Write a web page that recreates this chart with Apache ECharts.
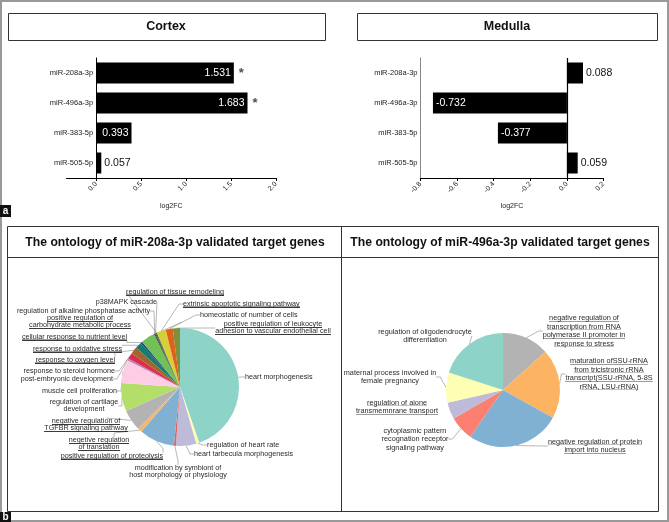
<!DOCTYPE html>
<html>
<head>
<meta charset="utf-8">
<script src="https://cdn.jsdelivr.net/npm/echarts@6/dist/echarts.min.js"></script>
<style>
html,body{margin:0;padding:0;background:#fff}
#chart{width:669px;height:522px}
</style>
</head>
<body>
<div id="chart"></div>
<script>
// panel a data
const mirs = ['miR-208a-3p', 'miR-496a-3p', 'miR-383-5p', 'miR-505-5p'];
const cortexFC = [1.531, 1.683, 0.393, 0.057];
const cortexSig = [true, true, false, false];
const medullaFC = [0.088, -0.732, -0.377, 0.059];
const cortexTicks = [0, 0.5, 1.0, 1.5, 2.0];

// panel b, left pie (shares in degrees, clockwise from 12 o'clock)
const go208Terms = [
  'heart morphogenesis', 'regulation of heart rate', 'heart tarbecula morphogenesis',
  'modification by symbiont of\nhost morphology or physiology', 'positive regulation of proteolysis',
  'negetive regulation\nof translation', 'negative regulation of\nTGFBR signaling pathway',
  'regulation of cartilage\ndevelopment', 'muscle cell proliferation', 'post-embryonic development',
  'response to steroid hormone', 'response to oxygen level', 'response to oxidative stress',
  'cellular response to nutrient level', 'positive regulation of\ncarbohydrate metabolic process',
  'regulation of alkaline phosphatase activity', 'p38MAPK cascade', 'regulation of tissue remodeling',
  'extrinsic apoptotic signaling pathway', 'homeostatic of number of cells',
  'positive regulation of leukocyte\nadhesion to vascular endothelial cell'
];
const go208Share = [161, 3, 20, 2, 35, 4, 21, 28, 23, 2, 6, 7, 6, 2, 14, 1, 1, 1, 9, 7, 7];
const go208Under = [false, false, false, false, true, true, true, false, false, false, false, true, true,
  true, true, false, false, true, true, false, true];

// panel b, right pie
const go496Terms = [
  'negative regulation of\ntranscription from RNA\npolymerase II promoter in\nresponse to stress',
  'maturation ofSSU-rRNA\nfrom tricistronic rRNA\ntranscript(SSU-rRNA, 5-8S\nrRNA, LSU-rRNA)',
  'negative regulation of protein\nimport into nucleus',
  'cytoplasmic pattern\nrecognation receptor\nsignaling pathway',
  'regulation of aione\ntransmemnrane transport',
  'maternal process involved in\nfemale pregnancy',
  'regulation of oligodendrocyte\ndifferentiation'
];
const go496Share = [48, 71, 96, 25, 17, 31, 72];
const go496Under = [true, true, true, false, true, false, false];

// styling
const go208Colors = ['#8dd3c7', '#ffffb3', '#bebada', '#e0605a', '#80b1d3', '#fdb462', '#b3b3b3',
  '#b3de69', '#fccde5', '#bc80bd', '#d9304a', '#a0662e', '#167a6e', '#1f4e79', '#72c05a',
  '#333333', '#2d5e2e', '#555555', '#d6cf3a', '#e0601c', '#7f8f3a'];
const go496Colors = ['#b3b3b3', '#fdb462', '#80b1d3', '#fb8072', '#bebada', '#ffffb3', '#8dd3c7'];

// label anchor positions [x, y, align]
const go208LabelPos = [
  [245, 377, 'left'], [207, 445, 'left'], [194, 454, 'left'], [178, 472, 'center'],
  [163, 456, 'right'], [99, 444, 'center'], [86, 425, 'center'], [84, 406, 'center'],
  [117, 391, 'right'], [113, 379, 'right'], [115, 371, 'right'], [115, 360, 'right'],
  [122, 349, 'right'], [127, 337, 'right'], [80, 322, 'center'], [150, 311, 'right'],
  [157, 302, 'right'], [175, 292, 'center'], [183, 304, 'left'], [200, 315, 'left'],
  [273, 328, 'center']
];
const go496LabelPos = [
  [584, 331, 'center'], [609, 374, 'center'], [595, 446, 'center'], [415, 439, 'center'],
  [397, 407, 'center'], [390, 377, 'center'], [425, 336, 'center']
];

function underlineImg(h) {
  const c = document.createElement('canvas');
  c.width = 4; c.height = h;
  const ctx = c.getContext('2d');
  ctx.fillStyle = '#3a3a3a';
  ctx.fillRect(0, h - 1, 4, 1);
  return c;
}

function termLabel(terms, under) {
  return function (p) {
    const tag = under[p.dataIndex] ? 'u' : 'n';
    return terms[p.dataIndex].split('\n').map(s => '{' + tag + '|' + s + '}').join('\n');
  };
}

function pieRich(fs, lh) {
  return {
    u: { fontSize: fs, lineHeight: lh, color: '#2a2a2a', backgroundColor: { image: underlineImg(lh) } },
    n: { fontSize: fs, lineHeight: lh, color: '#2a2a2a' }
  };
}

const FONT = '"Liberation Sans", Arial, sans-serif';
const chart = echarts.init(document.getElementById('chart'));

const axisLabelStyle = { fontSize: 7, color: '#222', fontFamily: FONT };

// cortex grid: the category axis sits on log2FC = 0
const cortexGrid = { left: 66.5, right: 393, top: 58, height: 120 };
const cortexMin = -0.33, cortexMax = 2;
const cortexWidth = 669 - cortexGrid.left - cortexGrid.right;
const cortexZeroOffset = -(0 - cortexMin) / (cortexMax - cortexMin) * cortexWidth;

const option = {
  animation: false,
  textStyle: { fontFamily: FONT },
  grid: [
    cortexGrid,
    { left: 420.5, right: 65.5, top: 58, height: 120 }
  ],
  xAxis: [
    {
      gridIndex: 0, type: 'value', min: cortexMin, max: cortexMax,
      name: 'log2FC', nameLocation: 'middle', nameGap: 25,
      nameTextStyle: { fontSize: 7, color: '#222' },
      axisLine: { show: true, lineStyle: { color: '#000', width: 1 } },
      axisTick: { show: true, length: 3, customValues: cortexTicks, lineStyle: { color: '#000' } },
      axisLabel: Object.assign({ rotate: 45, margin: 5, customValues: cortexTicks,
        formatter: v => v.toFixed(1) }, axisLabelStyle),
      splitLine: { show: false }
    },
    {
      gridIndex: 1, type: 'value', min: -0.8, max: 0.2, interval: 0.2,
      name: 'log2FC', nameLocation: 'middle', nameGap: 25,
      nameTextStyle: { fontSize: 7, color: '#222' },
      axisLine: { show: true, lineStyle: { color: '#000', width: 1 } },
      axisTick: { show: true, length: 3, lineStyle: { color: '#000' } },
      axisLabel: Object.assign({ rotate: 45, margin: 5, formatter: v => v.toFixed(1) }, axisLabelStyle),
      splitLine: { show: false }
    }
  ],
  yAxis: [
    {
      gridIndex: 0, type: 'category', data: mirs, inverse: true,
      offset: cortexZeroOffset,
      axisLine: { onZero: false, lineStyle: { color: '#000', width: 1 } },
      axisTick: { alignWithLabel: true, length: 3, lineStyle: { color: '#555' } },
      axisLabel: { fontSize: 7.5, color: '#222', margin: 3 }
    },
    {
      gridIndex: 1, type: 'category', data: mirs, inverse: true,
      axisLine: { onZero: false, lineStyle: { color: '#555', width: 0.7 } },
      axisTick: { alignWithLabel: true, length: 3, lineStyle: { color: '#555' } },
      axisLabel: { fontSize: 7.5, color: '#222', margin: 3 }
    }
  ],
  series: [
    {
      type: 'bar', xAxisIndex: 0, yAxisIndex: 0, barWidth: 21,
      itemStyle: { color: '#000' },
      data: cortexFC.map(v => ({
        value: v,
        label: v > 0.3
          ? { show: true, position: 'insideRight', color: '#fff', fontSize: 10.5, distance: 3 }
          : { show: true, position: 'right', color: '#111', fontSize: 10.5, distance: 3 }
      })),
      label: { formatter: p => p.value.toFixed(3) }
    },
    {
      type: 'scatter', xAxisIndex: 0, yAxisIndex: 0, symbolSize: 0, silent: true,
      data: cortexFC.map((v, i) => [v, mirs[i]]).filter((d, i) => cortexSig[i]),
      label: { show: true, formatter: '*', position: 'right', distance: 5,
        fontSize: 13, fontWeight: 'bold', color: '#222' }
    },
    {
      type: 'bar', xAxisIndex: 1, yAxisIndex: 1, barWidth: 21,
      itemStyle: { color: '#000' },
      data: medullaFC.map(v => ({
        value: v,
        label: v < 0
          ? { show: true, position: 'insideLeft', color: '#fff', fontSize: 10.5, distance: 3 }
          : { show: true, position: 'right', color: '#111', fontSize: 10.5, distance: 3 }
      })),
      label: { formatter: p => p.value.toFixed(3) },
      markLine: {
        silent: true, symbol: 'none', label: { show: false },
        lineStyle: { color: '#000', width: 1.2, type: 'solid' },
        data: [{ xAxis: 0 }]
      }
    },
    {
      type: 'pie', center: [180, 387], radius: 59, startAngle: 90, clockwise: true,
      avoidLabelOverlap: false,
      data: go208Terms.map((t, i) => ({ name: t, value: go208Share[i], itemStyle: { color: go208Colors[i] } })),
      label: { show: true, position: 'outside', formatter: termLabel(go208Terms, go208Under),
        rich: pieRich(7.2, 7), fontSize: 7.2, lineHeight: 7 },
      labelLine: { show: true, length: 4, length2: 4, lineStyle: { color: '#888', width: 0.6 } },
      labelLayout: p => {
        const pos = go208LabelPos[p.dataIndex];
        return { x: pos[0], y: pos[1], align: pos[2], verticalAlign: 'middle' };
      }
    },
    {
      type: 'pie', center: [503, 390], radius: 57, startAngle: 90, clockwise: true,
      avoidLabelOverlap: false,
      data: go496Terms.map((t, i) => ({ name: t, value: go496Share[i], itemStyle: { color: go496Colors[i] } })),
      label: { show: true, position: 'outside', formatter: termLabel(go496Terms, go496Under),
        rich: pieRich(7.3, 8.5), fontSize: 7.3, lineHeight: 8.5 },
      labelLine: { show: true, length: 4, length2: 4, lineStyle: { color: '#888', width: 0.6 } },
      labelLayout: p => {
        const pos = go496LabelPos[p.dataIndex];
        return { x: pos[0], y: pos[1], align: pos[2], verticalAlign: 'middle' };
      }
    }
  ],
  graphic: [
    { type: 'rect', silent: true, shape: { x: 1, y: 1, width: 667, height: 520 },
      style: { fill: null, stroke: '#999', lineWidth: 2 } },
    // panel a title boxes
    { type: 'rect', shape: { x: 8.5, y: 13.5, width: 317, height: 27 },
      style: { fill: '#fff', stroke: '#333', lineWidth: 1 } },
    { type: 'text', x: 166, y: 27, style: { text: 'Cortex', font: 'bold 12.5px ' + FONT,
      fill: '#111', align: 'center', verticalAlign: 'middle' } },
    { type: 'rect', shape: { x: 357.5, y: 13.5, width: 300, height: 27 },
      style: { fill: '#fff', stroke: '#333', lineWidth: 1 } },
    { type: 'text', x: 507, y: 27, style: { text: 'Medulla', font: 'bold 12.5px ' + FONT,
      fill: '#111', align: 'center', verticalAlign: 'middle' } },
    // panel b frame
    { type: 'rect', shape: { x: 7.5, y: 226.5, width: 651, height: 285 },
      style: { fill: null, stroke: '#333', lineWidth: 1 } },
    { type: 'line', shape: { x1: 341.5, y1: 226.5, x2: 341.5, y2: 511.5 },
      style: { stroke: '#333', lineWidth: 1 } },
    { type: 'line', shape: { x1: 7.5, y1: 257.5, x2: 658.5, y2: 257.5 },
      style: { stroke: '#333', lineWidth: 1 } },
    { type: 'text', x: 175, y: 243, style: { text: 'The ontology of miR-208a-3p validated target genes',
      font: 'bold 12.2px ' + FONT, fill: '#111', align: 'center', verticalAlign: 'middle' } },
    { type: 'text', x: 500, y: 243, style: { text: 'The ontology of miR-496a-3p validated target genes',
      font: 'bold 12.2px ' + FONT, fill: '#111', align: 'center', verticalAlign: 'middle' } },
    // panel letters
    { type: 'rect', shape: { x: 0, y: 205, width: 11, height: 12 }, style: { fill: '#111' } },
    { type: 'text', x: 5.5, y: 211, style: { text: 'a', font: 'bold 10px ' + FONT,
      fill: '#fff', align: 'center', verticalAlign: 'middle' } },
    { type: 'rect', shape: { x: 0, y: 512, width: 11, height: 10 }, style: { fill: '#111' } },
    { type: 'text', x: 5.5, y: 517, style: { text: 'b', font: 'bold 10px ' + FONT,
      fill: '#fff', align: 'center', verticalAlign: 'middle' } }
  ]
};

chart.setOption(option);
</script>
</body>
</html>
